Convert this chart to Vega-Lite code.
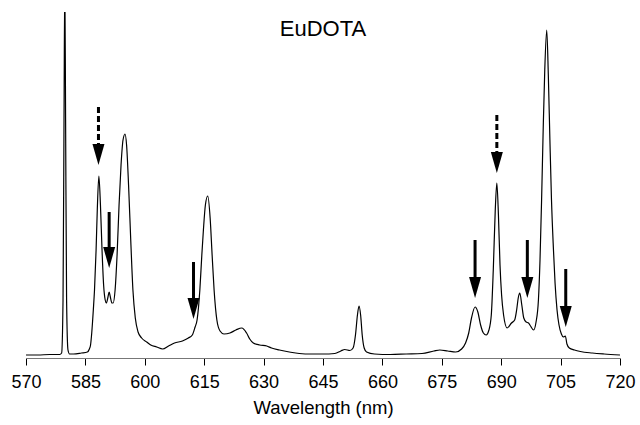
{
  "$schema": "https://vega.github.io/schema/vega-lite/v6.json",
  "width": 594,
  "height": 346,
  "autosize": {"type": "none"},
  "padding": {"left": 26, "top": 12, "right": 20, "bottom": 67},
  "background": "white",
  "config": {"view": {"stroke": null}},
  "datasets": {
    "spectrum": [
      {"wavelength": 570.0, "intensity": 3},
      {"wavelength": 573.0, "intensity": 3},
      {"wavelength": 576.0, "intensity": 3.5},
      {"wavelength": 578.5, "intensity": 3.5},
      {"wavelength": 579.0, "intensity": 5},
      {"wavelength": 579.35, "intensity": 58},
      {"wavelength": 579.6, "intensity": 238},
      {"wavelength": 579.8, "intensity": 378},
      {"wavelength": 580.0, "intensity": 238},
      {"wavelength": 580.25, "intensity": 58},
      {"wavelength": 580.6, "intensity": 8},
      {"wavelength": 581.0, "intensity": 4},
      {"wavelength": 582.0, "intensity": 4},
      {"wavelength": 584.0, "intensity": 5},
      {"wavelength": 585.5, "intensity": 6},
      {"wavelength": 586.0, "intensity": 9},
      {"wavelength": 586.3, "intensity": 13},
      {"wavelength": 586.6, "intensity": 25},
      {"wavelength": 587.0, "intensity": 48},
      {"wavelength": 587.3, "intensity": 68},
      {"wavelength": 587.7, "intensity": 108},
      {"wavelength": 588.0, "intensity": 148},
      {"wavelength": 588.4, "intensity": 182},
      {"wavelength": 588.8, "intensity": 153},
      {"wavelength": 589.2, "intensity": 108},
      {"wavelength": 589.6, "intensity": 73},
      {"wavelength": 590.0, "intensity": 58},
      {"wavelength": 590.3, "intensity": 55},
      {"wavelength": 590.7, "intensity": 61},
      {"wavelength": 591.0, "intensity": 66},
      {"wavelength": 591.3, "intensity": 61},
      {"wavelength": 591.7, "intensity": 55},
      {"wavelength": 592.0, "intensity": 55},
      {"wavelength": 592.5, "intensity": 68},
      {"wavelength": 593.0, "intensity": 103},
      {"wavelength": 593.5, "intensity": 153},
      {"wavelength": 594.0, "intensity": 193},
      {"wavelength": 594.5, "intensity": 218},
      {"wavelength": 595.0, "intensity": 224},
      {"wavelength": 595.4, "intensity": 213},
      {"wavelength": 595.9, "intensity": 173},
      {"wavelength": 596.5, "intensity": 113},
      {"wavelength": 597.0, "intensity": 68},
      {"wavelength": 597.6, "intensity": 40},
      {"wavelength": 598.3, "intensity": 26},
      {"wavelength": 599.2, "intensity": 20},
      {"wavelength": 600.5, "intensity": 16},
      {"wavelength": 601.5, "intensity": 13},
      {"wavelength": 603.0, "intensity": 11},
      {"wavelength": 604.5, "intensity": 9},
      {"wavelength": 606.0, "intensity": 12},
      {"wavelength": 607.5, "intensity": 15},
      {"wavelength": 609.5, "intensity": 17},
      {"wavelength": 611.0, "intensity": 20},
      {"wavelength": 612.0, "intensity": 23},
      {"wavelength": 612.7, "intensity": 31},
      {"wavelength": 613.2, "intensity": 38},
      {"wavelength": 613.9, "intensity": 68},
      {"wavelength": 614.4, "intensity": 103},
      {"wavelength": 614.8, "intensity": 128},
      {"wavelength": 615.3, "intensity": 153},
      {"wavelength": 615.9, "intensity": 162},
      {"wavelength": 616.5, "intensity": 140},
      {"wavelength": 617.0, "intensity": 103},
      {"wavelength": 617.5, "intensity": 68},
      {"wavelength": 618.2, "intensity": 38},
      {"wavelength": 619.0, "intensity": 27},
      {"wavelength": 620.0, "intensity": 24},
      {"wavelength": 621.5, "intensity": 25},
      {"wavelength": 623.0, "intensity": 28},
      {"wavelength": 624.5, "intensity": 30},
      {"wavelength": 625.7, "intensity": 25},
      {"wavelength": 626.5, "intensity": 19},
      {"wavelength": 627.4, "intensity": 15},
      {"wavelength": 629.0, "intensity": 13},
      {"wavelength": 630.8, "intensity": 12},
      {"wavelength": 632.0, "intensity": 10},
      {"wavelength": 634.0, "intensity": 8},
      {"wavelength": 636.5, "intensity": 6},
      {"wavelength": 639.0, "intensity": 4.5},
      {"wavelength": 642.0, "intensity": 4},
      {"wavelength": 645.0, "intensity": 4},
      {"wavelength": 648.0, "intensity": 4.5},
      {"wavelength": 649.5, "intensity": 7},
      {"wavelength": 650.5, "intensity": 8.5},
      {"wavelength": 651.8, "intensity": 7.5},
      {"wavelength": 652.6, "intensity": 10},
      {"wavelength": 653.2, "intensity": 23},
      {"wavelength": 653.7, "intensity": 43},
      {"wavelength": 654.1, "intensity": 52},
      {"wavelength": 654.5, "intensity": 43},
      {"wavelength": 654.9, "intensity": 23},
      {"wavelength": 655.4, "intensity": 10},
      {"wavelength": 656.0, "intensity": 6},
      {"wavelength": 658.0, "intensity": 4},
      {"wavelength": 662.0, "intensity": 3.5},
      {"wavelength": 666.0, "intensity": 4},
      {"wavelength": 670.0, "intensity": 4.5},
      {"wavelength": 673.0, "intensity": 7},
      {"wavelength": 674.5, "intensity": 8},
      {"wavelength": 676.5, "intensity": 7},
      {"wavelength": 678.5, "intensity": 6},
      {"wavelength": 680.0, "intensity": 9},
      {"wavelength": 681.0, "intensity": 15},
      {"wavelength": 681.8, "intensity": 25},
      {"wavelength": 682.5, "intensity": 40},
      {"wavelength": 683.4, "intensity": 51},
      {"wavelength": 684.1, "intensity": 46},
      {"wavelength": 684.8, "intensity": 33},
      {"wavelength": 685.5, "intensity": 25},
      {"wavelength": 686.2, "intensity": 23},
      {"wavelength": 686.9, "intensity": 28},
      {"wavelength": 687.5, "intensity": 43},
      {"wavelength": 688.0, "intensity": 88},
      {"wavelength": 688.5, "intensity": 148},
      {"wavelength": 688.9, "intensity": 175},
      {"wavelength": 689.3, "intensity": 143},
      {"wavelength": 689.7, "intensity": 93},
      {"wavelength": 690.1, "intensity": 63},
      {"wavelength": 690.6, "intensity": 43},
      {"wavelength": 691.5, "intensity": 30},
      {"wavelength": 692.6, "intensity": 35},
      {"wavelength": 693.4, "intensity": 38},
      {"wavelength": 693.9, "intensity": 48},
      {"wavelength": 694.3, "intensity": 60},
      {"wavelength": 694.7, "intensity": 65},
      {"wavelength": 695.2, "intensity": 53},
      {"wavelength": 695.7, "intensity": 40},
      {"wavelength": 696.3, "intensity": 36},
      {"wavelength": 696.9, "intensity": 35},
      {"wavelength": 697.4, "intensity": 32},
      {"wavelength": 698.2, "intensity": 28},
      {"wavelength": 698.8, "intensity": 36},
      {"wavelength": 699.4, "intensity": 58},
      {"wavelength": 699.8, "intensity": 98},
      {"wavelength": 700.2, "intensity": 158},
      {"wavelength": 700.6, "intensity": 228},
      {"wavelength": 701.0, "intensity": 288},
      {"wavelength": 701.5, "intensity": 328},
      {"wavelength": 701.9, "intensity": 283},
      {"wavelength": 702.3, "intensity": 218},
      {"wavelength": 702.7, "intensity": 158},
      {"wavelength": 703.2, "intensity": 108},
      {"wavelength": 703.6, "intensity": 75},
      {"wavelength": 704.1, "intensity": 48},
      {"wavelength": 704.6, "intensity": 33},
      {"wavelength": 705.2, "intensity": 24},
      {"wavelength": 705.7, "intensity": 21},
      {"wavelength": 706.2, "intensity": 22},
      {"wavelength": 706.6, "intensity": 14},
      {"wavelength": 707.2, "intensity": 10},
      {"wavelength": 708.5, "intensity": 8},
      {"wavelength": 710.0, "intensity": 6.5},
      {"wavelength": 713.0, "intensity": 5},
      {"wavelength": 716.0, "intensity": 4},
      {"wavelength": 720.0, "intensity": 3}
    ],
    "arrows": [
      {"wavelength": 588.3, "top": 251, "neck": 205, "tip": 193, "marker": "dashed"},
      {"wavelength": 591.0, "top": 146, "neck": 102, "tip": 90, "marker": "solid"},
      {"wavelength": 612.3, "top": 96, "neck": 51, "tip": 39, "marker": "solid"},
      {"wavelength": 683.4, "top": 118, "neck": 72, "tip": 60, "marker": "solid"},
      {"wavelength": 688.9, "top": 243, "neck": 197, "tip": 185, "marker": "dashed"},
      {"wavelength": 696.6, "top": 118, "neck": 72, "tip": 60, "marker": "solid"},
      {"wavelength": 706.3, "top": 89, "neck": 43, "tip": 31, "marker": "solid"}
    ],
    "label": [
      {"wavelength": 645, "intensity": 322, "name": "EuDOTA"}
    ]
  },
  "layer": [
    {
      "data": {"name": "spectrum"},
      "mark": {"type": "line", "color": "black", "strokeWidth": 1.2, "interpolate": "monotone", "clip": true},
      "encoding": {
        "x": {
          "field": "wavelength", "type": "quantitative",
          "scale": {"domain": [570, 720], "nice": false, "zero": false},
          "axis": {
            "values": [570, 577.5, 585, 592.5, 600, 607.5, 615, 622.5, 630, 637.5, 645, 652.5, 660, 667.5, 675, 682.5, 690, 697.5, 705, 712.5, 720],
            "labelExpr": "datum.value % 15 === 0 ? datum.label : ''",
            "title": "Wavelength (nm)",
            "grid": false,
            "domainColor": "#777777",
            "domainWidth": 1,
            "tickColor": "black",
            "tickSize": 7,
            "tickWidth": 1,
            "labelFont": "Liberation Sans",
            "labelFontSize": 18,
            "labelColor": "black",
            "labelPadding": 8,
            "labelFlush": false,
            "labelOverlap": false,
            "titleFont": "Liberation Sans",
            "titleFontSize": 18.5,
            "titleFontWeight": "normal",
            "titleColor": "black",
            "titlePadding": 7
          }
        },
        "y": {"field": "intensity", "type": "quantitative", "scale": {"domain": [0, 346], "nice": false}, "axis": null}
      }
    },
    {
      "data": {"name": "arrows"},
      "mark": {"type": "rule", "color": "black", "strokeWidth": 3},
      "encoding": {
        "x": {"field": "wavelength", "type": "quantitative"},
        "y": {"field": "top", "type": "quantitative", "axis": null},
        "y2": {"field": "neck"},
        "strokeDash": {"field": "marker", "type": "nominal", "scale": {"domain": ["dashed", "solid"], "range": [[6, 3], [1, 0]]}, "legend": null}
      }
    },
    {
      "data": {"name": "arrows"},
      "mark": {"type": "point", "shape": "M-1,-3.5L1,-3.5L0,0Z", "filled": true, "color": "black", "size": 144, "opacity": 1, "strokeWidth": 0},
      "encoding": {
        "x": {"field": "wavelength", "type": "quantitative"},
        "y": {"field": "tip", "type": "quantitative", "axis": null}
      }
    },
    {
      "data": {"name": "label"},
      "mark": {"type": "text", "font": "Liberation Sans", "fontSize": 22, "color": "black", "align": "center", "baseline": "alphabetic"},
      "encoding": {
        "x": {"field": "wavelength", "type": "quantitative"},
        "y": {"field": "intensity", "type": "quantitative", "axis": null},
        "text": {"field": "name"}
      }
    }
  ]
}
